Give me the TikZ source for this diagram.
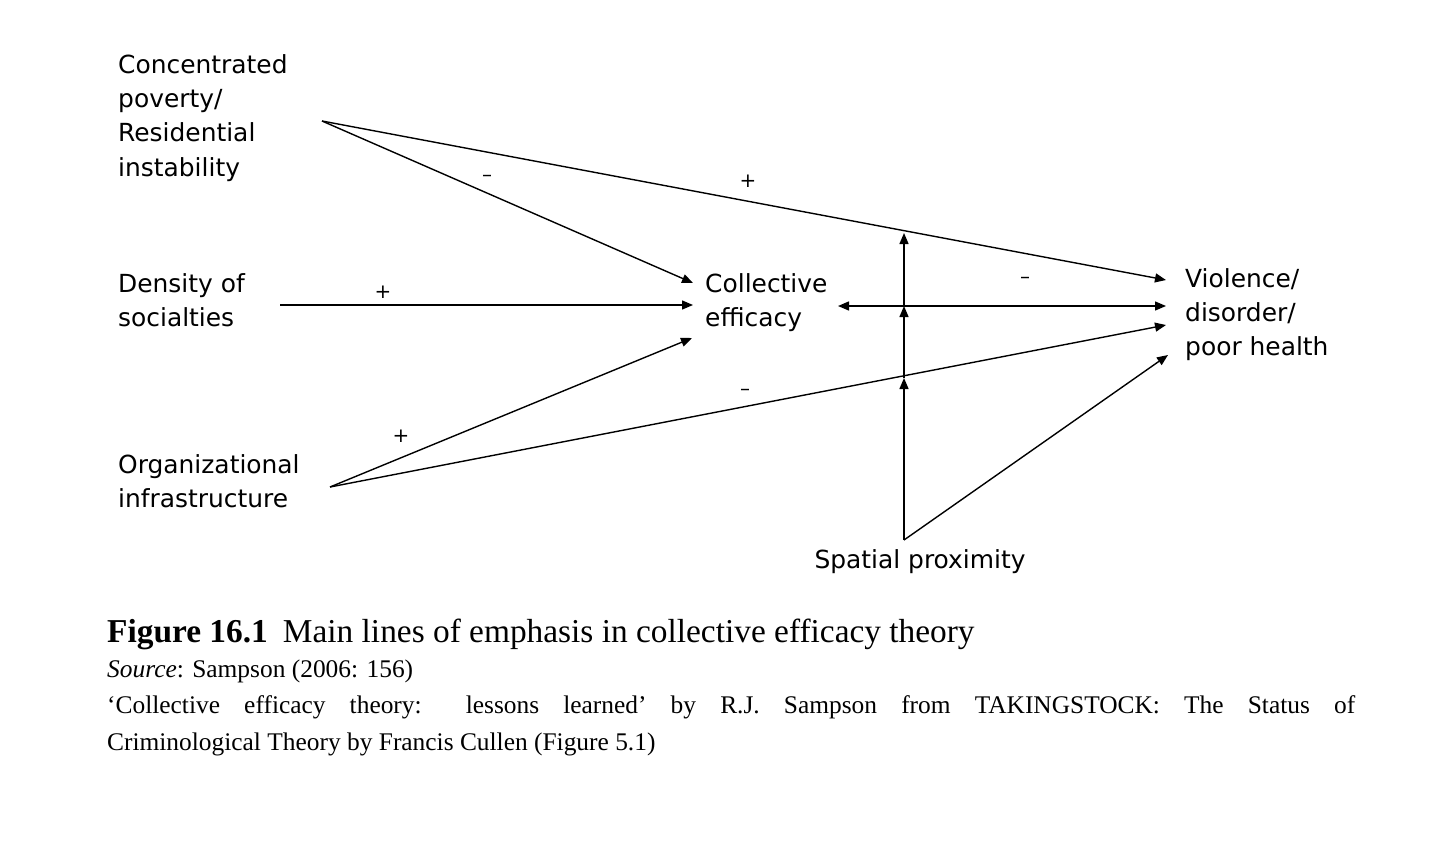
\documentclass[tikz,border=0pt]{standalone}
\usepackage{fontspec}
\setmainfont{Liberation Serif}
\newfontfamily\lab{DejaVu Sans}
\usetikzlibrary{arrows.meta}
\begin{document}
\begin{tikzpicture}[x=1bp,y=-1bp,
  lbl/.style={font=\lab\fontsize{25}{34.5}\selectfont,align=left,inner sep=0pt,anchor=north west},
  sgn/.style={font=\lab\fontsize{20}{20}\selectfont,inner sep=0pt},
  arr/.style={-{Triangle[length=11bp,width=9bp]},line width=1.4bp}]
\useasboundingbox (0,0) rectangle (1440,849);
\node[lbl] (cp) at (118,54) {Concentrated\\poverty/\\Residential\\instability};
\node[lbl] (ds) at (118,273) {Density of\\socialties};
\node[lbl] (oi) at (118,454) {Organizational\\infrastructure};
\node[lbl] (ce) at (705,273) {Collective\\efficacy};
\node[lbl] (vi) at (1185,268) {Violence/\\disorder/\\poor health};
\node[lbl,anchor=north] (sp) at (920,549) {Spatial proximity};
\coordinate (cpo) at (322,121);
\coordinate (dso) at (280,305);
\coordinate (oio) at (330,487);
\coordinate (spo) at (904,540);
\coordinate (ce1) at (693,283);
\coordinate (ce2) at (693,305);
\coordinate (ce3) at (692,338);
\coordinate (cer) at (838,306);
\coordinate (vi1) at (1166,280);
\coordinate (vi2) at (1166,306);
\coordinate (vi3) at (1166,325);
\coordinate (vi4) at (1168,355);
\coordinate (v1) at (904,233);
\coordinate (v2) at (904,306);
\coordinate (v3) at (904,378);
\draw[arr] (cpo) -- (ce1);
\draw[arr] (cpo) -- (vi1);
\draw[arr] (dso) -- (ce2);
\draw[arr] (oio) -- (ce3);
\draw[arr] (oio) -- (vi3);
\draw[arr,{Triangle[length=11bp,width=9bp]}-{Triangle[length=11bp,width=9bp]}] (cer) -- (vi2);
\draw[arr] (spo) -- (v3);
\draw[arr] (v3) -- (v2);
\draw[arr] (v2) -- (v1);
\draw[arr] (spo) -- (vi4);
\node[sgn] (s1) at (487,178) {–};
\node[sgn] (s2) at (748,181) {+};
\node[sgn] (s3) at (383,292) {+};
\node[sgn] (s4) at (401,436) {+};
\node[sgn] (s5) at (745,392) {–};
\node[sgn] (s6) at (1025,280) {–};
\node[inner sep=0pt,anchor=base west,font=\fontsize{33.5}{36}\selectfont] (cap) at (107,642) {\textbf{Figure 16.1}\hspace{0.45em}Main lines of emphasis in collective efficacy theory};
\node[inner sep=0pt,anchor=base west,text width=1248bp,align=justify,font=\fontsize{25.5}{37}\selectfont] (src) at (107,677) {\textit{Source}: Sampson (2006: 156)\\ `Collective efficacy theory: lessons learned' by R.J. Sampson from TAKINGSTOCK: The Status of\linebreak Criminological Theory by Francis Cullen (Figure 5.1)};
\end{tikzpicture}
\end{document}
